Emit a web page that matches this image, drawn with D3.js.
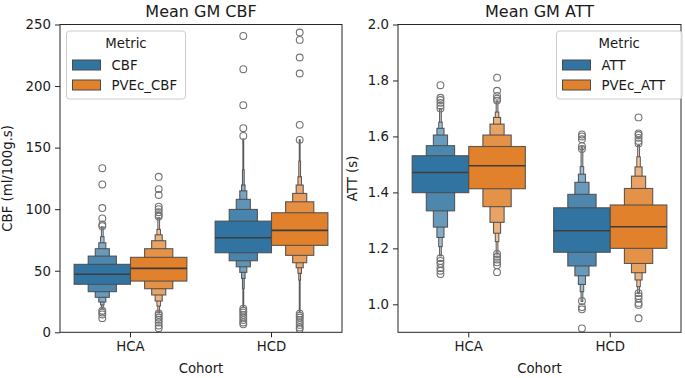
<!DOCTYPE html>
<html><head><meta charset="utf-8">
<script src="https://cdn.jsdelivr.net/npm/d3@7"></script>
<style>
html,body{margin:0;padding:0;background:#fff;}
svg{display:block;font-family:"DejaVu Sans",sans-serif;}
</style></head>
<body><svg id="chart" width="685" height="378"></svg>
<script>
// ---------- data ----------
const cohorts = ["HCA", "HCD"];
const cbfMetrics = ["CBF", "PVEc_CBF"];
const attMetrics = ["ATT", "PVEc_ATT"];
const cbfTicks = [0, 50, 100, 150, 200, 250];
const attTicks = [1.0, 1.2, 1.4, 1.6, 1.8, 2.0];
const attTickLabels = ["1.0", "1.2", "1.4", "1.6", "1.8", "2.0"];

// letter values (innermost -> outermost), medians and outliers
const hcaCbfMedian = 47.1;
const hcaCbfLower = [39.0, 33.0, 28.4, 24.6, 22.2, 19.5];
const hcaCbfUpper = [55.2, 61.9, 67.9, 72.7, 77.6, 85.7];
const hcaCbfOutliers = [133.3, 120.1, 100.9, 92.5, 87.5, 86.2, 17.5, 16.0, 14.5, 11.5];

const hcaPvecCbfMedian = 51.9;
const hcaPvecCbfLower = [41.6, 35.4, 30.3, 25.4, 21.3, 15.8];
const hcaPvecCbfUpper = [60.9, 67.9, 74.4, 79.2, 83.6, 93.0];
const hcaPvecCbfOutliers = [126.3, 116.3, 111.5, 102.0, 100.0, 97.5, 95.2, 94.0, 15.4, 14.0, 12.0, 10.2, 8.0, 5.5, 3.3];

const hcdCbfMedian = 76.8;
const hcdCbfLower = [64.6, 58.1, 53.2, 48.7, 43.8, 35.7, 20.5];
const hcdCbfUpper = [90.3, 99.8, 108.0, 114.9, 119.6, 132.0, 157.0];
const hcdCbfOutliers = [240.7, 213.7, 184.5, 165.8, 159.5, 19.2, 17.5, 16.0, 14.0, 12.0, 10.0, 8.0, 6.5];

const hcdPvecCbfMedian = 82.8;
const hcdPvecCbfLower = [70.6, 62.5, 56.5, 52.4, 47.9, 42.4, 16.5];
const hcdPvecCbfUpper = [97.1, 106.0, 112.8, 119.6, 126.3, 139.0, 156.5];
const hcdPvecCbfOutliers = [243.5, 237.5, 223.2, 210.2, 168.5, 156.3, 15.2, 13.5, 12.0, 10.0, 8.0, 6.0, 4.0, 2.5];

const hcaAttMedian = 1.471;
const hcaAttLower = [1.399, 1.334, 1.276, 1.239, 1.206, 1.173];
const hcaAttUpper = [1.531, 1.567, 1.605, 1.629, 1.651, 1.700];
const hcaAttOutliers = [1.783, 1.738, 1.730, 1.720, 1.710, 1.700, 1.165, 1.155, 1.145, 1.130, 1.120, 1.108];

const hcaPvecAttMedian = 1.495;
const hcaPvecAttLower = [1.413, 1.349, 1.293, 1.254, 1.224, 1.180];
const hcaPvecAttUpper = [1.564, 1.605, 1.644, 1.668, 1.687, 1.727];
const hcaPvecAttOutliers = [1.810, 1.763, 1.745, 1.735, 1.728, 1.180, 1.170, 1.160, 1.150, 1.140, 1.115];

const hcdAttMedian = 1.263;
const hcdAttLower = [1.186, 1.137, 1.102, 1.071, 1.045, 1.010];
const hcdAttUpper = [1.345, 1.393, 1.436, 1.465, 1.492, 1.563];
const hcdAttOutliers = [1.607, 1.600, 1.590, 1.565, 1.555, 1.012, 0.990, 0.982, 0.914];

const hcdPvecAttMedian = 1.277;
const hcdPvecAttLower = [1.200, 1.146, 1.113, 1.087, 1.063, 1.039];
const hcdPvecAttUpper = [1.355, 1.414, 1.458, 1.491, 1.527, 1.569];
const hcdPvecAttOutliers = [1.668, 1.611, 1.605, 1.595, 1.584, 1.575, 1.040, 1.030, 1.020, 1.005, 0.998, 0.950];

const hueColors = ["#3274a1", "#e1812c"];

// ---------- build series ----------
function series(cohort, hue, median, lower, upper, outliers) {
  return {cohort, hue, median, lower, upper, outliers};
}
const cbfSeries = [
  series("HCA", 0, hcaCbfMedian, hcaCbfLower, hcaCbfUpper, hcaCbfOutliers),
  series("HCA", 1, hcaPvecCbfMedian, hcaPvecCbfLower, hcaPvecCbfUpper, hcaPvecCbfOutliers),
  series("HCD", 0, hcdCbfMedian, hcdCbfLower, hcdCbfUpper, hcdCbfOutliers),
  series("HCD", 1, hcdPvecCbfMedian, hcdPvecCbfLower, hcdPvecCbfUpper, hcdPvecCbfOutliers)
];
const attSeries = [
  series("HCA", 0, hcaAttMedian, hcaAttLower, hcaAttUpper, hcaAttOutliers),
  series("HCA", 1, hcaPvecAttMedian, hcaPvecAttLower, hcaPvecAttUpper, hcaPvecAttOutliers),
  series("HCD", 0, hcdAttMedian, hcdAttLower, hcdAttUpper, hcdAttOutliers),
  series("HCD", 1, hcdPvecAttMedian, hcdPvecAttLower, hcdPvecAttUpper, hcdPvecAttOutliers)
];

const svg = d3.select("#chart");
const TXT = "#1a1a1a";
const EDGE = "#4a4a4a";
const FS = 13.3;

function lighten(c, t) {
  return d3.interpolateRgb(c, "#ffffff")(t);
}

function panel(opts) {
  const {x0, x1, y0, y1, domain, ticks, tickFmt, title, ylabel, data, metrics, legendX} = opts;
  const g = svg.append("g");
  const x = d3.scaleBand().domain(cohorts).range([x0, x1]).paddingInner(0).paddingOuter(0);
  const y = d3.scaleLinear().domain(domain).range([y1, y0]);
  const bw = x.bandwidth();
  const hueW = bw * 0.8 / 2;

  const clip = "clip" + Math.round(x0);
  svg.append("clipPath").attr("id", clip).append("rect")
    .attr("x", x0).attr("y", y0).attr("width", x1 - x0).attr("height", y1 - y0);
  const plot = g.append("g").attr("clip-path", `url(#${clip})`);

  data.forEach(s => {
    const cx = x(s.cohort) + bw / 2 + (s.hue === 0 ? -1 : 1) * bw * 0.2;
    const k = s.lower.length;
    const base = hueColors[s.hue];
    // draw outermost first
    for (let j = k - 1; j >= 0; j--) {
      const w = hueW * Math.pow(0.5, j);
      const t = 0.85 * j / (k - 1) * 0.8;
      plot.append("rect")
        .attr("x", cx - w / 2).attr("width", w)
        .attr("y", y(s.upper[j])).attr("height", y(s.lower[j]) - y(s.upper[j]))
        .attr("fill", lighten(base, t))
        .attr("stroke", EDGE).attr("stroke-width", j >= k - 2 ? 1.0 : 1.1)
        .attr("stroke-opacity", 0.9);
    }
    plot.append("line")
      .attr("x1", cx - hueW / 2).attr("x2", cx + hueW / 2)
      .attr("y1", y(s.median)).attr("y2", y(s.median))
      .attr("stroke", "#3d3d3d").attr("stroke-width", 1.6);
    plot.selectAll(null).data(s.outliers).enter().append("circle")
      .attr("cx", cx).attr("cy", d => y(d)).attr("r", 3.4)
      .attr("fill", "none").attr("stroke", "#737373").attr("stroke-width", 1.1);
  });

  // frame
  g.append("rect").attr("x", x0).attr("y", y0).attr("width", x1 - x0).attr("height", y1 - y0)
    .attr("fill", "none").attr("stroke", "#262626").attr("stroke-width", 1);

  // y axis
  const yAxis = d3.axisLeft(y).tickValues(ticks).tickSize(5).tickPadding(4).tickFormat(tickFmt);
  const ya = g.append("g").attr("transform", `translate(${x0},0)`).call(yAxis);
  ya.select(".domain").remove();
  ya.selectAll(".tick line").attr("stroke", "#262626");
  ya.selectAll(".tick text").attr("fill", TXT).style("font-size", FS + "px").style("font-family", "DejaVu Sans");

  // x axis
  const xAxis = d3.axisBottom(x).tickSize(5).tickPadding(4);
  const xa = g.append("g").attr("transform", `translate(0,${y1})`).call(xAxis);
  xa.select(".domain").remove();
  xa.selectAll(".tick line").attr("stroke", "#262626");
  xa.selectAll(".tick text").attr("fill", TXT).style("font-size", FS + "px").style("font-family", "DejaVu Sans");

  // labels
  g.append("text").attr("x", (x0 + x1) / 2).attr("y", 17).attr("text-anchor", "middle")
    .attr("fill", TXT).style("font-size", "16px").text(title);
  g.append("text").attr("x", (x0 + x1) / 2).attr("y", 373).attr("text-anchor", "middle")
    .attr("fill", TXT).style("font-size", FS + "px").text("Cohort");
  g.append("text").attr("transform", `translate(${opts.ylabelX},${(y0 + y1) / 2}) rotate(-90)`)
    .attr("text-anchor", "middle").attr("fill", TXT).style("font-size", FS + "px").text(ylabel);

  // legend
  const lg = g.append("g").attr("transform", `translate(${legendX},31)`);
  lg.append("rect").attr("x", 0).attr("y", 0).attr("width", opts.legendW).attr("height", 68)
    .attr("rx", 3).attr("fill", "#fff").attr("fill-opacity", 0.85)
    .attr("stroke", "#cccccc").attr("stroke-width", 1);
  lg.append("text").attr("x", opts.legendW / 2).attr("y", 17).attr("text-anchor", "middle")
    .attr("fill", TXT).style("font-size", FS + "px").text("Metric");
  metrics.forEach((m, i) => {
    lg.append("rect").attr("x", 6).attr("y", 29 + i * 20).attr("width", 28).attr("height", 10)
      .attr("fill", hueColors[i]).attr("stroke", EDGE).attr("stroke-width", 1);
    lg.append("text").attr("x", 45).attr("y", 39 + i * 20).attr("fill", TXT)
      .style("font-size", FS + "px").text(m);
  });
}

panel({x0: 60, x1: 342, y0: 24.5, y1: 332.3, domain: [0, 250], ticks: cbfTicks,
  tickFmt: d => String(d), title: "Mean GM CBF", ylabel: "CBF (ml/100g.s)", ylabelX: 12,
  data: cbfSeries, metrics: cbfMetrics, legendX: 66.5, legendW: 119});
panel({x0: 398, x1: 681, y0: 24.5, y1: 332.3, domain: [0.9, 2.0], ticks: attTicks,
  tickFmt: (d, i) => attTickLabels[i], title: "Mean GM ATT", ylabel: "ATT (s)", ylabelX: 357,
  data: attSeries, metrics: attMetrics, legendX: 556.5, legendW: 125.5});
</script></body></html>
